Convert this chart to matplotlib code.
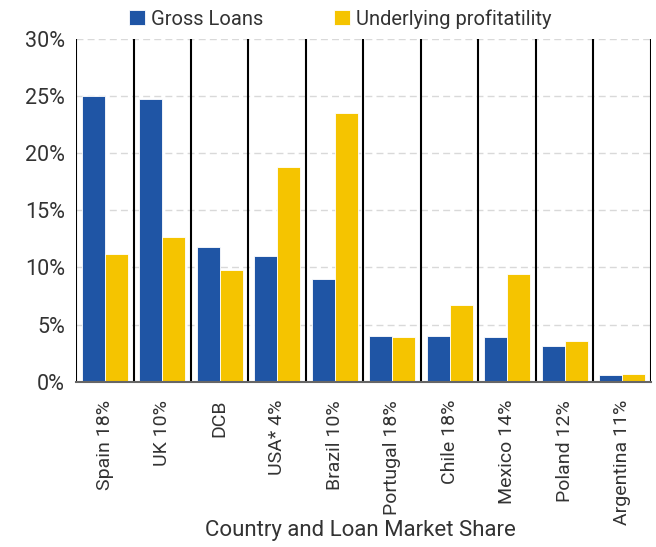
import numpy as np
import matplotlib
matplotlib.use("Agg")
import matplotlib.pyplot as plt
from matplotlib.ticker import PercentFormatter

plt.rcParams['font.family'] = ['Roboto', 'DejaVu Sans']

# Donnees
pays = ['Spain 18%', 'UK 10%', 'DCB', 'USA* 4%', 'Brazil 10%',
        'Portugal 18%', 'Chile 18%', 'Mexico 14%', 'Poland 12%', 'Argentina 11%']
gross_loans = [25.0, 24.75, 11.8, 11.0, 9.0, 4.0, 4.0, 3.9, 3.1, 0.6]
profitabilite = [11.2, 12.7, 9.8, 18.8, 23.5, 3.9, 6.7, 9.4, 3.6, 0.7]

bleu = '#1f55a5'
jaune = '#f5c400'

fig = plt.figure(figsize=(6.56, 5.47), dpi=100)
ax = fig.add_axes([0.116, 0.302, 0.876, 0.627])

x = np.arange(len(pays))
w = 0.4
ax.bar(x - w / 2, gross_loans, w, color=bleu, edgecolor='white', linewidth=0.6,
       label='Gross Loans', zorder=3)
ax.bar(x + w / 2, profitabilite, w, color=jaune, edgecolor='white', linewidth=0.6,
       label='Underlying profitatility', zorder=3)

# lignes verticales entre les pays
for b in np.arange(len(pays) + 1) - 0.5:
    ax.axvline(b, color='black', linewidth=1.5, zorder=4)

ax.set_xlim(-0.5, len(pays) - 0.5)
ax.set_ylim(0, 30)
ax.set_yticks(np.arange(0, 31, 5))
ax.yaxis.set_major_formatter(PercentFormatter(decimals=0))
ax.grid(axis='y', color='#d9d9d9', linestyle=(0, (5, 3)), linewidth=1, zorder=0)

ax.set_xticks(x)
ax.set_xticklabels(pays, rotation=90)
ax.tick_params(axis='y', length=0, labelsize=15.5, colors='#333333', pad=8)
ax.tick_params(axis='x', length=0, labelsize=14, colors='#333333', pad=13)

for s in ['top', 'right', 'left']:
    ax.spines[s].set_visible(False)
ax.spines['bottom'].set_color('#666666')
ax.spines['bottom'].set_linewidth(1.5)
ax.spines['bottom'].set_zorder(5)

# titre de l'axe x place a la main (les etiquettes sont longues)
fig.text(0.55, 0.031, 'Country and Loan Market Share', fontsize=16,
         color='#333333', ha='center', va='center')

ax.legend(loc='lower center', bbox_to_anchor=(0.46, 1.0), ncol=2, frameon=False,
          fontsize=14.5, handlelength=0.8, handleheight=0.8, handletextpad=0.3,
          columnspacing=3.5, labelcolor='#333333', borderaxespad=0.1)

fig.savefig('out.png', dpi=100)
